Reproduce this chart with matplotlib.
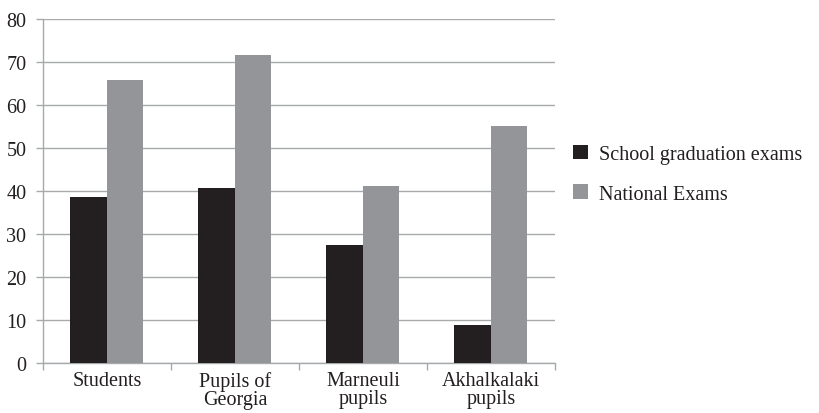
import numpy as np
import matplotlib.pyplot as plt

# data
categories = ["Students", "Pupils of\nGeorgia", "Marneuli\npupils", "Akhalkalaki\npupils"]
school_exams = [38.6, 40.8, 27.4, 8.8]
national_exams = [65.7, 71.7, 41.2, 55.2]
series_names = ["School graduation exams", "National Exams"]

plt.rcParams['font.family'] = ['Liberation Serif', 'DejaVu Serif']

fig = plt.figure(figsize=(8.2, 4.14), dpi=100)
ax = fig.add_axes([0.0524, 0.1208, 0.6244, 0.8309])

x = np.arange(len(categories))
w = 0.285
ax.bar(x - w / 2, school_exams, w, color="#231f20", label=series_names[0], zorder=3)
ax.bar(x + w / 2, national_exams, w, color="#939598", label=series_names[1], zorder=3)

ax.set_xlim(-0.5, len(categories) - 0.5)
ax.set_ylim(0, 80)
ax.set_yticks(range(0, 81, 10))
ax.yaxis.grid(True, color="#a7a9ac", linewidth=1.0, zorder=0)

# category labels centred, ticks at category boundaries
ax.set_xticks(x)
ax.set_xticklabels(categories, fontsize=14.5, color="#231f20", linespacing=0.9)
ax.tick_params(axis="x", length=0, pad=6)
ax.set_xticks(np.arange(-0.5, len(categories)), minor=True)
ax.tick_params(axis="x", which="minor", length=5, color="#a7a9ac", width=1)
ax.tick_params(axis="y", length=5, color="#a7a9ac", width=1, labelsize=14.5, labelcolor="#231f20", pad=7)

for s in ["top", "right"]:
    ax.spines[s].set_visible(False)
for s in ["left", "bottom"]:
    ax.spines[s].set_color("#a7a9ac")
    ax.spines[s].set_linewidth(1)

fig.legend(loc="center left", bbox_to_anchor=(0.677, 0.577), frameon=False,
           fontsize=14.5, handlelength=0.75, handleheight=0.75, handletextpad=0.55,
           labelspacing=1.0, labelcolor="#231f20")

fig.savefig("out.png", dpi=100)
